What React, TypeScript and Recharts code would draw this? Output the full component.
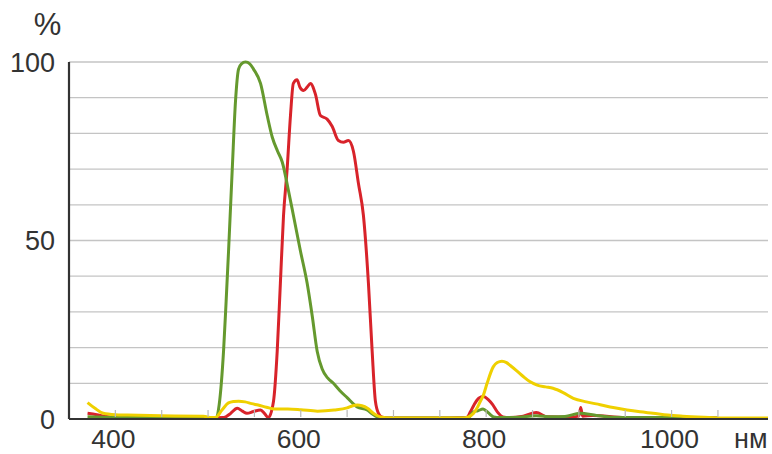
import React from 'react';
import { LineChart, Line, XAxis, YAxis, CartesianGrid } from 'recharts';

const redNm = [370, 380, 388, 400, 450, 495, 517, 524, 531.5, 537, 542, 549, 556.6, 561, 565, 570.6, 574.6, 578, 581.4, 585.3, 588.9, 592, 596, 599, 603, 607, 610.4, 615.8, 621.2, 628.4, 633.8, 640.6, 646, 651.4, 656.8, 662.2, 667.6, 673, 677, 680.5, 684, 688, 695, 760, 779, 783, 787, 792, 797, 802, 807, 812, 818, 825, 840, 854, 866, 890, 900, 902, 904, 915, 950, 1000, 1050];
const redVal = [1.6, 1.2, 0.8, 0.4, 0.4, 0.3, 0.4, 1.5, 3, 2.2, 1.6, 2.1, 2.5, 1.5, 0.4, 5, 19, 38, 57, 70, 85, 94, 95, 93, 92, 93, 94, 91, 85, 84, 82, 78, 77.5, 78, 75, 66, 57, 38, 19, 5, 1.5, 0.5, 0.3, 0.3, 0.4, 2, 4, 5.8, 6.3, 5.5, 4, 2, 0.6, 0.4, 0.8, 1.8, 0.6, 0.5, 0.8, 3.2, 0.8, 1, 0.4, 0.4, 0.3];

const greenNm = [370, 400, 450, 500, 509, 512, 516.7, 519.5, 522.1, 526.1, 529.6, 532.9, 536, 540.4, 545, 549, 556.6, 563.8, 569.2, 575, 580, 586.7, 592.1, 599.7, 606.9, 612.3, 617.7, 623.1, 629, 635.2, 642, 650, 660.8, 671.6, 677, 682.3, 690, 780, 786.4, 791, 796.6, 802, 808, 815, 835, 854, 870, 885, 901, 919, 935, 960, 1000, 1050];
const greenVal = [0.6, 0.4, 0.4, 0.4, 0.4, 4, 19, 33, 47, 70, 89, 98, 99.5, 100, 99.5, 98, 94, 85, 79, 75, 72, 64, 57, 47, 38, 29, 19, 14, 11.5, 10, 8, 6, 3.4, 2.5, 1.5, 0.6, 0.3, 0.3, 2, 2.3, 2.8, 1.8, 0.6, 0.4, 0.5, 0.9, 0.6, 0.7, 1.6, 1, 0.5, 0.4, 0.4, 0.3];

const yellowNm = [370, 378, 387, 400, 413, 450, 495, 504, 508, 515, 522, 528, 533, 540, 547, 554, 563, 572, 586, 600, 618, 636, 650, 656, 661, 666, 672, 679, 686, 697, 775, 781, 786.4, 790, 793.6, 797, 801, 807.6, 812, 817, 822, 826, 833, 840, 847, 855, 864, 872, 883, 894, 908, 923, 937, 952, 966, 980, 996, 1012, 1035, 1055, 1080, 1104];
const yellowVal = [4.6, 3, 1.6, 1.2, 1.1, 0.9, 0.8, 0.4, 0.4, 2.5, 4.5, 4.9, 5, 4.8, 4.3, 3.9, 3.3, 2.8, 2.8, 2.6, 2.2, 2.5, 3.1, 3.7, 3.9, 3.7, 3, 1.5, 0.6, 0.3, 0.3, 0.6, 1.6, 3, 4.9, 6.7, 10, 14.6, 15.8, 16.2, 15.8, 15, 13.5, 11.9, 10.5, 9.5, 9, 8.6, 7.4, 5.8, 4.8, 4, 3.2, 2.5, 2, 1.6, 1.1, 0.8, 0.5, 0.3, 0.3, 0.3];

const xTicks = [400, 450, 500, 550, 600, 650, 700, 750, 800, 850, 900, 950, 1000, 1050];
const xLabels = [400, 600, 800, 1000];
const yTicks = [0, 10, 20, 30, 40, 50, 60, 70, 80, 90, 100];
const yLabels = [0, 50, 100];
const unitY = '%';
const unitX = 'нм';

const build = (nm: number[], v: number[]) => nm.map((x, i) => ({ nm: x, v: v[i] }));
const redData = build(redNm, redVal);
const greenData = build(greenNm, greenVal);
const yellowData = build(yellowNm, yellowVal);

const FONT = '"Liberation Sans", Arial, sans-serif';

const XTick = (props: any) => {
  const { x, y, payload } = props;
  const show = xLabels.includes(payload.value);
  return (
    <g>
      <line x1={x} x2={x} y1={y - 9} y2={y - 2} stroke="#b8b8b8" strokeWidth={1.2} />
      {show && (
        <text x={x - 2} y={y + 29} textAnchor="middle" fontSize={26.5} fill="#333" fontFamily={FONT}>
          {payload.value}
        </text>
      )}
    </g>
  );
};

const YTick = (props: any) => {
  const { x, y, payload } = props;
  if (!yLabels.includes(payload.value)) return <g />;
  return (
    <text x={x} y={y} dy={9.5} textAnchor="end" fontSize={27} fill="#333" fontFamily={FONT}>
      {payload.value}
    </text>
  );
};

export default function App() {
  return (
    <div style={{ position: 'fixed', left: 0, top: 0, width: 772, height: 454, background: '#fff' }}>
      <LineChart width={772} height={454} margin={{ top: 62, right: 4, left: 0, bottom: 0 }}>
        <CartesianGrid vertical={false} stroke="#c4c4c4" strokeWidth={1.3} />
        <XAxis
          type="number"
          dataKey="nm"
          domain={[350, 1104]}
          ticks={xTicks}
          allowDataOverflow
          height={35}
          tickSize={0}
          tickMargin={0}
          tickLine={false}
          tick={<XTick />}
          axisLine={{ stroke: '#333', strokeWidth: 2.2 }}
        />
        <YAxis
          type="number"
          domain={[0, 100]}
          ticks={yTicks}
          width={69}
          tickSize={0}
          tickMargin={14}
          tickLine={false}
          tick={<YTick />}
          axisLine={{ stroke: '#333', strokeWidth: 2.2 }}
        />
        <Line data={redData} dataKey="v" type="monotone" stroke="#d8232a" strokeWidth={3} dot={false} isAnimationActive={false} />
        <Line data={greenData} dataKey="v" type="monotone" stroke="#65992e" strokeWidth={3} dot={false} isAnimationActive={false} />
        <Line data={yellowData} dataKey="v" type="monotone" stroke="#efd000" strokeWidth={3} dot={false} isAnimationActive={false} />
      </LineChart>
      <svg width={772} height={454} style={{ position: 'absolute', left: 0, top: 0, pointerEvents: 'none' }}>
        <text x={47.5} y={35} textAnchor="middle" fontSize={31} fill="#333" fontFamily={FONT}>{unitY}</text>
        <text x={734} y={448} textAnchor="start" fontSize={27} fill="#333" fontFamily={FONT}>{unitX}</text>
      </svg>
    </div>
  );
}
